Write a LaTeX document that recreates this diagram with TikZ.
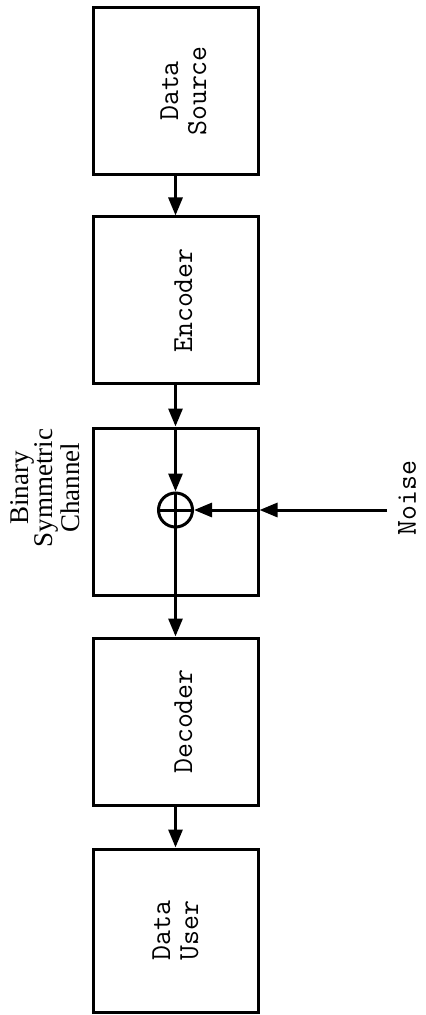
\documentclass[tikz,border=0pt]{standalone}
\usepackage{fontspec}
\setmainfont{Liberation Serif}
\usepackage{graphicx}
\usetikzlibrary{arrows.meta}

\tikzset{
  blockbox/.style={draw, line width=1.5pt, minimum width=82.5pt, minimum height=83.5pt,
    inner sep=0pt, font=\ttfamily\fontsize{14.5}{14}\selectfont},
  sumcirc/.style={draw, circle, line width=1.5pt, minimum size=17pt, inner sep=0pt},
  flowarrow/.style={line width=1.5pt, -{Triangle[length=9pt,width=7pt]}},
}
\newcommand{\vtext}[2][11pt]{\hspace*{#1}\rotatebox{90}{\begin{tabular}{@{}c@{}}#2\end{tabular}}}

\begin{document}
\begin{tikzpicture}[x=0.5pt, y=-0.5pt]
\useasboundingbox (0,0) rectangle (425,1015);
% blocks, top to bottom
\node[blockbox] (src) at (175.5,91) {\vtext{Data\\Source}};
\node[blockbox] (enc) at (175.5,300.5) {\vtext{Encoder}};
\node[blockbox] (chan) at (175.5,511.5) {};
\node[blockbox] (dec) at (175.5,721.5) {\vtext{Decoder}};
\node[blockbox, minimum height=81.5pt] (user) at (175.5,930.5) {\vtext[3pt]{Data\\User}};
% modulo-2 adder inside the channel
\node[sumcirc] (plus) at (175.5,510) {};
\draw[line width=1.5pt] (plus.north) -- (plus.south) (plus.west) -- (plus.east);
\coordinate (noise) at (387,510);
\node[rotate=90, font=\ttfamily\fontsize{14.5}{14}\selectfont] (noiselbl) at (407,498) {Noise};
\node[rotate=90, align=center, font=\fontsize{13.5}{12}\selectfont] (chanlbl) at (45,488) {Binary\\Symmetric\\Channel};
% connectors
\draw[flowarrow] (src) -- (enc);
\draw[flowarrow] (enc) -- (chan);
\draw[flowarrow] (chan.north) -- (plus);
\draw[flowarrow] (plus) -- (dec);
\draw[flowarrow] (dec) -- (user);
\draw[flowarrow] (noise) -- (plus -| chan.east);
\draw[flowarrow] (plus -| chan.east) -- (plus);
\end{tikzpicture}
\end{document}
